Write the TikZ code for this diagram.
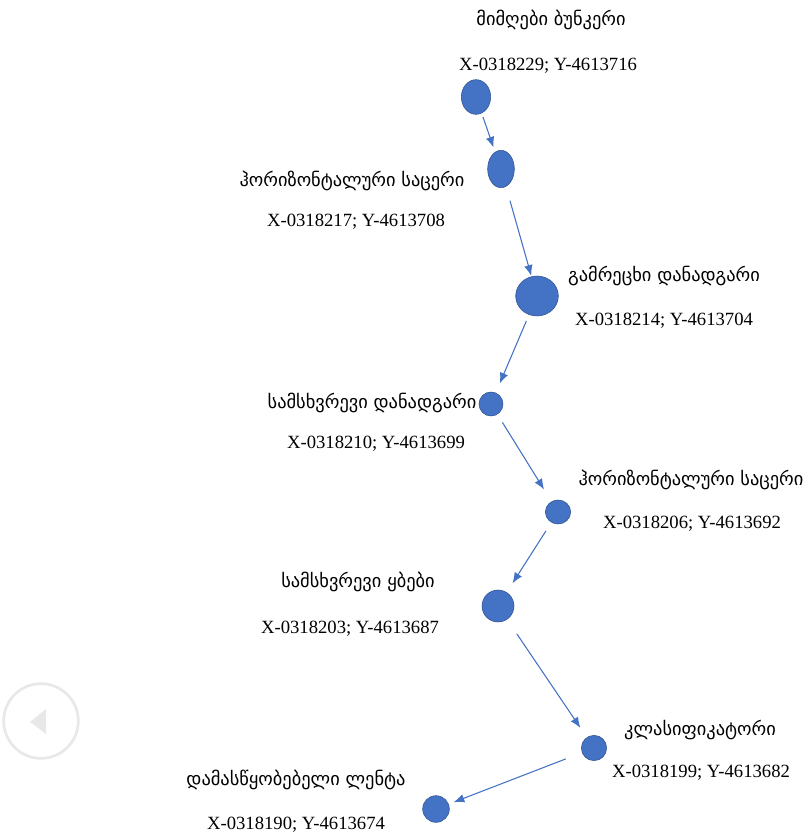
\documentclass[tikz,border=0pt]{standalone}
\usepackage{fontspec}
\setmainfont{Liberation Serif}
\newfontfamily\geofont{DejaVu Sans}
\usetikzlibrary{shapes.geometric,arrows.meta,calc}
\definecolor{dotblue}{HTML}{4472C4}
\definecolor{dotedge}{HTML}{2F528F}
\definecolor{ghost}{HTML}{E8E8E8}

\begin{document}
\begin{tikzpicture}
  [x=0.75pt,y=-0.75pt,
   dot/.style={ellipse, fill=dotblue, draw=dotedge, line width=0.4pt, inner sep=0pt},
   stagename/.style={font=\geofont\fontsize{13.8}{15}\selectfont, inner sep=0pt},
   stagexy/.style={font=\fontsize{14}{16}\selectfont, inner sep=0pt},
   flow/.style={draw=dotblue, line width=0.8pt, -{Latex[length=8pt,width=6.5pt]}}]
  \useasboundingbox (0,0) rectangle (809,837);

  \node[dot, minimum width=22, minimum height=26] (n1) at (476,97) {};
  \node[dot, minimum width=20, minimum height=28] (n2) at (501,169) {};
  \node[dot, minimum width=32, minimum height=30] (n3) at (537,296) {};
  \node[dot, minimum width=18, minimum height=18] (n4) at (491,404) {};
  \node[dot, minimum width=19, minimum height=18] (n5) at (558,512) {};
  \node[dot, minimum width=24, minimum height=24] (n6) at (498,606) {};
  \node[dot, minimum width=19, minimum height=19] (n7) at (594,748) {};
  \node[dot, minimum width=20, minimum height=20] (n8) at (436,809) {};

  \node[stagename] (t1) at (551,20) {მიმღები ბუნკერი};
  \node[stagexy] (c1) at (548,66) {X-0318229; Y-4613716};
  \node[stagename] (t2) at (352,181) {ჰორიზონტალური საცერი};
  \node[stagexy] (c2) at (356,222) {X-0318217; Y-4613708};
  \node[stagename] (t3) at (664,276) {გამრეცხი დანადგარი};
  \node[stagexy] (c3) at (664,321) {X-0318214; Y-4613704};
  \node[stagename] (t4) at (372,403) {სამსხვრევი დანადგარი};
  \node[stagexy] (c4) at (376,444) {X-0318210; Y-4613699};
  \node[stagename] (t5) at (691,480) {ჰორიზონტალური საცერი};
  \node[stagexy] (c5) at (692,524) {X-0318206; Y-4613692};
  \node[stagename] (t6) at (358,582) {სამსხვრევი ყბები};
  \node[stagexy] (c6) at (350,629) {X-0318203; Y-4613687};
  \node[stagename] (t7) at (700,730) {კლასიფიკატორი};
  \node[stagexy] (c7) at (701,773) {X-0318199; Y-4613682};
  \node[stagename] (t8) at (296,780) {დამასწყობებელი ლენტა};
  \node[stagexy] (c8) at (296,825) {X-0318190; Y-4613674};

  \foreach \from/\to/\sa/\sb in {n1/n2/3/3.5, n2/n3/11/0.5, n3/n4/5/7.5, n4/n5/7/10.5,
                                 n5/n6/7.5/8, n6/n7/13/8.5, n7/n8/13/4}
    \draw[flow, shorten <=\sa pt, shorten >=\sb pt] (\from) -- (\to);

  % back button
  \node[circle, draw=ghost, line width=2pt, minimum size=56, inner sep=0pt] (back) at (41,721) {};
  \fill[ghost] ($(back)+(-11,1)$) -- ($(back)+(5,-12)$) -- ($(back)+(5,13)$) -- cycle;
\end{tikzpicture}
\end{document}
